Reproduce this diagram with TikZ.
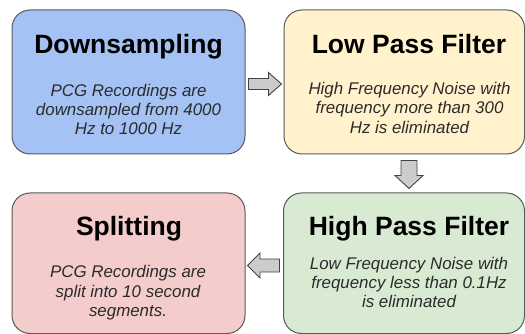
\documentclass[tikz,border=0pt]{standalone}
\usepackage{fontspec}
\setmainfont{Liberation Sans}
\usetikzlibrary{calc}
\definecolor{cblue}{HTML}{A4C2F4}
\definecolor{cyellow}{HTML}{FFF2CC}
\definecolor{cred}{HTML}{F4CCCC}
\definecolor{cgreen}{HTML}{D9EAD3}
\definecolor{cborder}{HTML}{595959}
\definecolor{carrow}{HTML}{CCCCCC}
\definecolor{carrowb}{HTML}{434343}
\definecolor{cbody}{HTML}{2B2B2B}
\tikzset{
  stagebox/.style={draw=cborder, line width=1pt, rounded corners=18pt, inner sep=0pt},
  titletext/.style={anchor=base, inner sep=0pt, font=\fontsize{26.5}{30}\selectfont\bfseries, text=black},
  bodytext/.style={anchor=base, inner sep=0pt, font=\fontsize{16.9}{19.5}\selectfont\itshape, text=cbody},
  blockarrow/.style={draw=carrowb, fill=carrow, line width=0.9pt, line join=miter},
}
\begin{document}
\begin{tikzpicture}[x=1pt,y=-1pt]
\useasboundingbox (0,0) rectangle (525,334);
% boxes
\node[stagebox, fill=cblue, minimum width=233pt, minimum height=144pt] (b1) at (128.5,82) {};
\node[stagebox, fill=cyellow, minimum width=240.5pt, minimum height=144pt] (b2) at (404.25,82) {};
\node[stagebox, fill=cred, minimum width=233pt, minimum height=140.5pt] (b3) at (128.5,263.25) {};
\node[stagebox, fill=cgreen, minimum width=241pt, minimum height=140.5pt] (b4) at (404,263.25) {};
% box 1
\node[titletext] (t1) at (128.5,53.3) {Downsampling};
\node[bodytext] (d1a) at (128.5,97) {PCG Recordings are};
\node[bodytext] (d1b) at (128.5,116) {downsampled from 4000};
\node[bodytext] (d1c) at (128.5,135) {Hz to 1000 Hz};
% box 2
\node[titletext] (t2) at (409,53.3) {Low Pass Filter};
\node[bodytext] (d2a) at (409.5,95) {High Frequency Noise with};
\node[bodytext] (d2b) at (409.5,114) {frequency more than 300};
\node[bodytext] (d2c) at (409.5,134) {Hz is eliminated};
% box 3
\node[titletext] (t3) at (129,235) {Splitting};
\node[bodytext] (d3a) at (128,277.5) {PCG Recordings are};
\node[bodytext] (d3b) at (128,297.5) {split into 10 second};
\node[bodytext] (d3c) at (128,316.7) {segments.};
% box 4
\node[titletext] (t4) at (409,235.5) {High Pass Filter};
\node[bodytext] (d4a) at (409,269.3) {Low Frequency Noise with};
\node[bodytext] (d4b) at (409,288.5) {frequency less than 0.1Hz};
\node[bodytext] (d4c) at (409,307.5) {is eliminated};
% arrows
\coordinate (a1) at ($(b1.east)+(3,2)$);
\draw[blockarrow] (a1) ++(0,-5.5) -- ++(20,0) -- ++(0,-6) -- ++(13,11.5) -- ++(-13,11.5) -- ++(0,-6) -- ++(-20,0) -- cycle;
\coordinate (a2) at ($(b2.south)+(4.75,6)$);
\draw[blockarrow] (a2) ++(-8,0) -- ++(0,15) -- ++(-6,0) -- ++(14,13) -- ++(14,-13) -- ++(-6,0) -- ++(0,-15) -- cycle;
\coordinate (a3) at ($(b4.west)+(-3.5,2.25)$);
\draw[blockarrow] (a3) ++(0,-6.5) -- ++(-19.5,0) -- ++(0,-6) -- ++(-12.5,12.5) -- ++(12.5,12.5) -- ++(0,-6) -- ++(19.5,0) -- cycle;
\end{tikzpicture}
\end{document}
